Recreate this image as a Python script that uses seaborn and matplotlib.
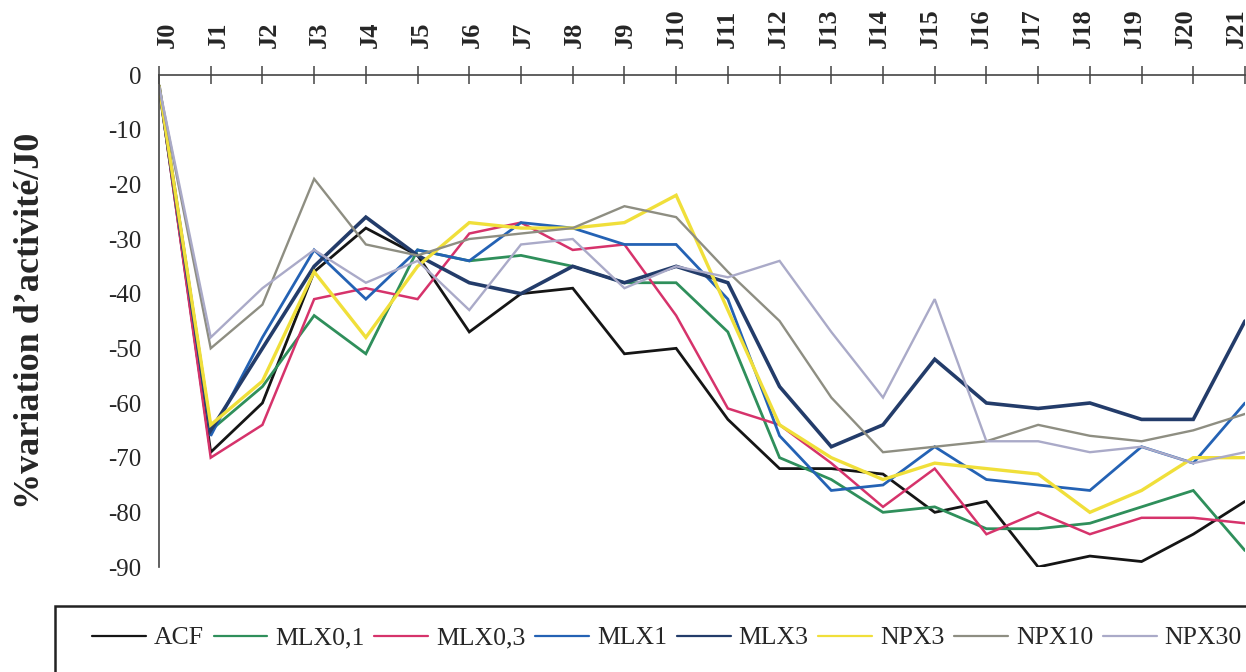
import matplotlib
matplotlib.use("Agg")
import matplotlib.pyplot as plt
import matplotlib.patches as mpatches
import matplotlib.transforms as mtransforms
import seaborn as sns
import pandas as pd

days = ["J%d" % i for i in range(22)]

ACF = [-2, -69, -60, -36, -28, -33, -47, -40, -39, -51, -50, -63, -72, -72, -73, -80, -78, -90, -88, -89, -84, -78]
MLX0_1 = [-2, -65, -57, -44, -51, -32, -34, -33, -35, -38, -38, -47, -70, -74, -80, -79, -83, -83, -82, -79, -76, -87]
MLX0_3 = [-2, -70, -64, -41, -39, -41, -29, -27, -32, -31, -44, -61, -64, -71, -79, -72, -84, -80, -84, -81, -81, -82]
MLX1 = [-2, -66, -48, -32, -41, -32, -34, -27, -28, -31, -31, -41, -66, -76, -75, -68, -74, -75, -76, -68, -71, -60]
MLX3 = [-2, -65, -50, -35, -26, -33, -38, -40, -35, -38, -35, -38, -57, -68, -64, -52, -60, -61, -60, -63, -63, -45]
NPX3 = [-2, -64, -56, -36, -48, -35, -27, -28, -28, -27, -22, -43, -64, -70, -74, -71, -72, -73, -80, -76, -70, -70]
NPX10 = [-2, -50, -42, -19, -31, -33, -30, -29, -28, -24, -26, -36, -45, -59, -69, -68, -67, -64, -66, -67, -65, -62]
NPX30 = [-2, -48, -39, -32, -38, -34, -43, -31, -30, -39, -35, -37, -34, -47, -59, -41, -67, -67, -69, -68, -71, -69]

series_names = ["ACF", "MLX0,1", "MLX0,3", "MLX1", "MLX3", "NPX3", "NPX10", "NPX30"]
series_values = [ACF, MLX0_1, MLX0_3, MLX1, MLX3, NPX3, NPX10, NPX30]
colors = ["#151515", "#2f8f5b", "#d6336b", "#2462b4", "#233c6a", "#f0df3a", "#8e8e82", "#aaaac8"]
widths = [2.0, 2.0, 1.8, 2.0, 2.6, 2.4, 1.7, 1.7]

rows = []
for name, vals in zip(series_names, series_values):
    for i, v in enumerate(vals):
        rows.append({"day": i, "value": v, "series": name})
df = pd.DataFrame(rows)

sns.set_style("white")
plt.rcParams["font.family"] = ["Liberation Serif", "DejaVu Serif"]
plt.rcParams["axes.unicode_minus"] = False

fig = plt.figure(figsize=(12.46, 6.72), dpi=100)
ax = fig.add_axes([159 / 1246, 105 / 672, 1086 / 1246, 492 / 672])

sns.lineplot(data=df, x="day", y="value", hue="series", hue_order=series_names,
             palette=dict(zip(series_names, colors)), linewidth=2, legend=False, ax=ax)
lines = ax.get_lines()
for ln, w in zip(lines, widths):
    ln.set_linewidth(w)
    ln.set_solid_joinstyle("miter")

ax.set_xlim(0, 21)
ax.set_ylim(-90, 0)
ax.set_xticks(range(22))
ax.set_xticklabels(days, rotation=90, fontweight="bold", fontsize=19)
ax.xaxis.tick_top()
ax.set_yticks(range(0, -91, -10))
ax.set_yticklabels([str(v) for v in range(0, -91, -10)], fontsize=18)
ax.tick_params(axis="both", direction="inout", length=13, width=1.1, color="#444444")
ax.tick_params(axis="x", pad=13)
ax.tick_params(axis="y", pad=6)
ax.set_xlabel("")
ax.set_ylabel("%variation d\u2019activit\u00e9/J0", fontsize=26, fontweight="bold")
ax.yaxis.set_label_coords(-0.103, 0.5)

# scanned labels drift slightly relative to the tick marks
for i, lab in enumerate(ax.get_xticklabels()):
    dx = (8 - i * 0.8) / 100.0
    lab.set_transform(lab.get_transform() + mtransforms.ScaledTranslation(dx, 0, fig.dpi_scale_trans))

for s in ["right", "bottom"]:
    ax.spines[s].set_visible(False)
for s in ["left", "top"]:
    ax.spines[s].set_color("#444444")
    ax.spines[s].set_linewidth(1.2)

rect = mpatches.Rectangle((55 / 1246, -0.1), 1.2, 66 / 672 + 0.1, transform=fig.transFigure,
                          fill=False, lw=1.8, ec="#222222")
fig.add_artist(rect)

handles = [plt.Line2D([], [], color=c, lw=1.6) for c in colors]
fig.legend(handles, series_names, loc="center left", ncol=8, mode="expand",
           bbox_to_anchor=(92 / 1246, 34 / 672, 1150 / 1246, 0), frameon=False,
           fontsize=18.5, handlelength=2.1, handletextpad=0.3, borderpad=0, borderaxespad=0)

fig.savefig("out.png", dpi=100)
